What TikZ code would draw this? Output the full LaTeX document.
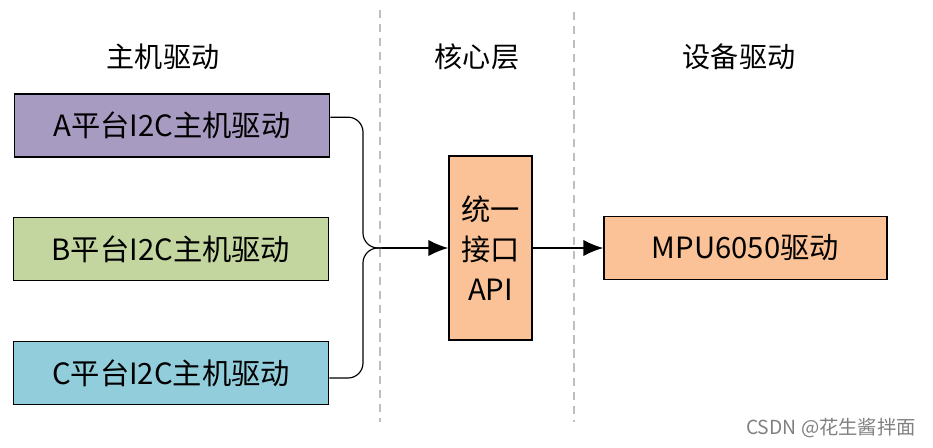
\documentclass[tikz,border=0pt]{standalone}
\usepackage{fontspec}
\setmainfont{Noto Sans CJK SC}
\usetikzlibrary{arrows.meta}

\definecolor{hostA}{RGB}{168,155,194}
\definecolor{hostB}{RGB}{196,214,160}
\definecolor{hostC}{RGB}{146,205,220}
\definecolor{coreO}{RGB}{250,194,150}
\definecolor{sepgray}{RGB}{190,190,190}

\tikzset{
  drvbox/.style={draw=black, line width=1.3pt, inner sep=0pt,
    minimum width=9.45cm, minimum height=1.88cm,
    font=\fontsize{25}{30}\selectfont},
  title/.style={font=\fontsize{24}{28}\selectfont},
  link/.style={line width=1pt, rounded corners=0.45cm},
  feed/.style={line width=1.4pt, -{Latex[length=17pt,width=14pt]}},
  sepline/.style={sepgray, line width=1.3pt, dash pattern=on 7pt off 5pt}
}

\begin{document}
\begin{tikzpicture}[x=0.03cm, y=-0.03cm]
    \useasboundingbox (0,0) rectangle (933,447);
    % column separators
    \draw[sepline] (380,10) -- (380,422);
    \draw[sepline] (574,12) -- (574,422);
    % column titles
    \node[title] (t1) at (163,57) {主机驱动};
    \node[title] (t2) at (477,57) {核心层};
    \node[title] (t3) at (739,57) {设备驱动};
    % host drivers
    \node[drvbox, fill=hostA] (A) at (172,125.5) {A平台I2C主机驱动};
    \node[drvbox, fill=hostB] (B) at (171,249) {B平台I2C主机驱动};
    \node[drvbox, fill=hostC] (C) at (171,373) {C平台I2C主机驱动};
    % core and device
    \node[drvbox, fill=coreO, minimum width=2.49cm, minimum height=5.52cm,
      align=center, font=\fontsize{25}{34}\selectfont] (api) at (490.5,248)
      {统一\\接口\\API};
    \node[drvbox, fill=coreO, minimum width=8.49cm] (mpu) at (745.5,248)
      {MPU6050驱动};
    % connectors
    \coordinate (trunk) at (363,248);
    \coordinate (join) at (382,248);
    \draw[link] ([yshift=0.25cm]A.east) -| (trunk) -- (join);
    \draw[link] ([yshift=-0.15cm]C.east) -| (trunk) -- (join);
    \draw[feed] (join) -- (api.west);
    \draw[feed] (api.east) -- (mpu.west);
    \node[gray, font=\fontsize{16.5}{19}\selectfont] (wm) at (831,428)
      {CSDN @花生酱拌面};
\end{tikzpicture}
\end{document}
